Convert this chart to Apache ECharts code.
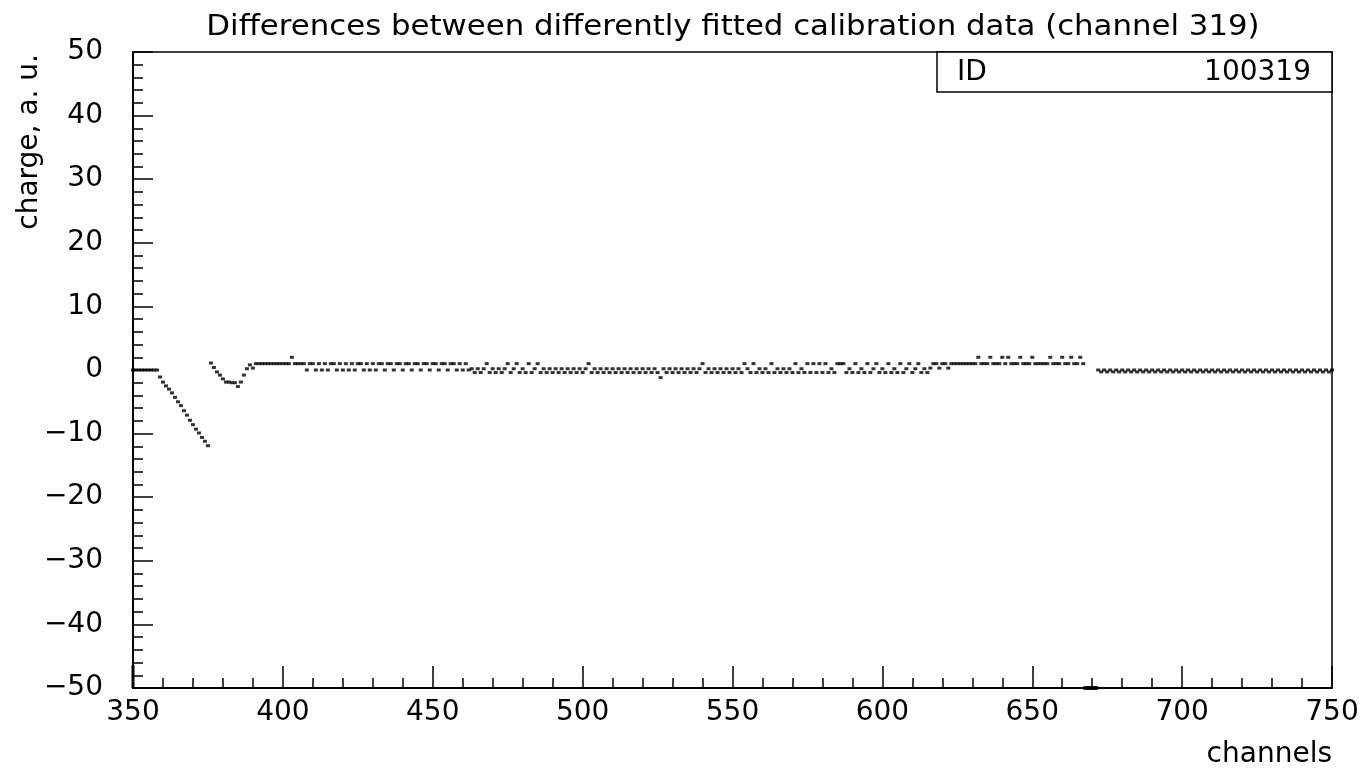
<!DOCTYPE html>
<html>
<head>
<meta charset="utf-8">
<script src="https://cdn.jsdelivr.net/npm/echarts@6/dist/echarts.min.js"></script>
<style>
html,body{margin:0;padding:0;background:#fff;}
#chart{width:1372px;height:772px;}
</style>
</head>
<body>
<div id="chart"></div>
<script>
// ---- data ----
const titleText = 'Differences between differently fitted calibration data (channel 319)';
const xName = 'channels';
const yName = 'charge, a. u.';
const statsLabel = 'ID';
const statsValue = '100319';
const xTicks = [350, 400, 450, 500, 550, 600, 650, 700, 750];
const yTicks = [-50, -40, -30, -20, -10, 0, 10, 20, 30, 40, 50];

// first segment: channels 350 .. 667 (one value per channel)
const segAStart = 350;
const segAValues = [
  0,0,0,0,0,0,0,0,0,-1.1,                       // 350
  -1.9,-2.5,-3.0,-3.6,-4.3,-5.0,-5.6,-6.4,-7.1,-7.9, // 360
  -8.6,-9.3,-9.9,-10.6,-11.2,-11.9,1.1,0.4,-0.3,-0.8, // 370
  -1.4,-1.9,-1.9,-2.0,-2.0,-2.6,-1.9,-0.8,0.2,0.8,  // 380
  0.3,1,1,1,1,1,1,1,1,1,                        // 390
  1,1,1,2,1,1,1,1,0,1,                          // 400
  1,0,1,0,1,0,1,1,0,1,                          // 410
  0,1,0,1,0,1,1,0,1,0,                          // 420
  1,0,1,1,0,1,1,0,1,1,                          // 430
  0,1,1,0,1,1,0,1,1,0,                          // 440
  1,1,0,1,1,0,1,1,0,1,                          // 450
  0,1,0,0.2,-0.4,0.2,-0.4,0.2,1,-0.4,           // 460
  0.2,-0.4,0.2,-0.4,0.2,1,-0.4,0.2,1,-0.4,      // 470
  0.2,-0.4,1,-0.4,0.2,1,-0.4,0.2,-0.4,0.2,      // 480
  -0.4,0.2,-0.4,0.2,-0.4,0.2,-0.4,0.2,-0.4,0.2, // 490
  -0.4,0.2,1,-0.4,0.2,-0.4,0.2,-0.4,0.2,-0.4,   // 500
  0.2,-0.4,0.2,-0.4,0.2,-0.4,0.2,-0.4,0.2,-0.4, // 510
  0.2,-0.4,0.2,-0.4,0.2,-0.4,-1.2,0.2,-0.4,0.2, // 520
  -0.4,0.2,-0.4,0.2,-0.4,0.2,-0.4,0.2,-0.4,0.2, // 530
  1,-0.4,0.2,-0.4,0.2,-0.4,0.2,-0.4,0.2,-0.4,   // 540
  0.2,-0.4,0.2,-0.4,1,0.2,-0.4,1,-0.4,0.2,      // 550
  -0.4,0.2,-0.4,1,-0.4,0.2,-0.4,0.2,-0.4,0.2,   // 560
  -0.4,1,-0.4,0.2,-0.4,1,-0.4,1,-0.4,1,         // 570
  -0.4,1,-0.4,0.2,-0.4,1,1,1,-0.4,0.2,          // 580
  -0.4,1,-0.4,0.2,-0.4,1,-0.4,0.2,1,-0.4,       // 590
  0.2,-0.4,1,-0.4,0.2,-0.4,1,-0.4,0.2,1,        // 600
  -0.4,0.2,1,-0.4,0.2,-0.4,0.3,1,1,0.3,         // 610
  1,1,0.3,1,1,1,1,1,1,1,                        // 620
  1,1,2,1,1,1,2,1,1,1,                          // 630
  2,1,2,1,1,1,2,1,1,1,                          // 640
  2,1,1,1,1,1,2,1,1,1,                          // 650
  2,1,1,2,1,1,2,1                               // 660
];

// second segment: channels 672 .. 750
const segBStart = 672;
const segBValues = [
  0,-0.3,0,-0.3,0,-0.3,0,-0.3,0,-0.3,   // 672
  0,-0.3,0,-0.3,0,-0.3,0,-0.3,0,-0.3,   // 682
  0,-0.3,0,-0.3,0,-0.3,0,-0.3,0,-0.3,   // 692
  0,-0.3,0,-0.3,0,-0.3,0,-0.3,0,-0.3,   // 702
  0,-0.3,0,-0.3,0,-0.3,0,-0.3,0,-0.3,   // 712
  0,-0.3,0,-0.3,0,-0.3,0,-0.3,0,-0.3,   // 722
  0,-0.3,0,-0.3,0,-0.3,0,-0.3,0,-0.3,   // 732
  0,-0.3,0,-0.3,0,-0.3,0,-0.3,0         // 742
];

// channels with values at / below the lower axis limit
const underflowChannels = [668, 669, 670, 671];
const underflowValues = [-50, -50, -50, -50];
// mark at the first channel running down to the axis floor
const edgeMarkChannel = 350;
const edgeMarkValues = [-46.4, -50];

// ---- build ----
const points = [];
segAValues.forEach((v, i) => points.push([segAStart + i, v]));
segBValues.forEach((v, i) => points.push([segBStart + i, v]));
const under = underflowChannels.map((c, i) => [c, underflowValues[i]]);
const edge = edgeMarkValues.map(v => [edgeMarkChannel, v]);

const FONT = 'DejaVu Sans';
const FS = 28;
const fontStr = FS + 'px "' + FONT + '"';
const chart = echarts.init(document.getElementById('chart'), null, {renderer: 'canvas'});
const gridL = 133, gridR = 40, gridT = 52, gridB = 84;

chart.setOption({
  animation: false,
  backgroundColor: '#ffffff',
  grid: {left: gridL, right: gridR, top: gridT, bottom: gridB, show: true,
         borderColor: '#000', borderWidth: 1.5, backgroundColor: 'transparent'},
  xAxis: {
    type: 'value', min: xTicks[0], max: xTicks[xTicks.length - 1], interval: 50,
    axisLine: {show: true, onZero: false, lineStyle: {color: '#000', width: 2}},
    axisTick: {show: true, inside: true, length: 22, lineStyle: {color: '#000', width: 1.5}},
    minorTick: {show: true, splitNumber: 5, length: 10, lineStyle: {color: '#000', width: 1.5}},
    splitLine: {show: false},
    axisLabel: {color: '#000', fontFamily: FONT, fontSize: FS, margin: 11,
                formatter: v => String(v)}
  },
  yAxis: {
    type: 'value', min: yTicks[0], max: yTicks[yTicks.length - 1], interval: 10,
    axisLine: {show: true, onZero: false, lineStyle: {color: '#000', width: 2}},
    axisTick: {show: true, inside: true, length: 20, lineStyle: {color: '#000', width: 1.5}},
    minorTick: {show: true, splitNumber: 5, length: 10, lineStyle: {color: '#000', width: 1.5}},
    splitLine: {show: false},
    axisLabel: {color: '#000', fontFamily: FONT, fontSize: FS, margin: 30,
                formatter: v => String(v).replace('-', '\u2212')}
  },
  series: [
    {type: 'scatter', data: points, symbol: 'rect', symbolSize: [4, 3],
     itemStyle: {color: '#000'}, clip: true},
    {type: 'scatter', data: under, symbol: 'rect', symbolSize: [6, 4],
     itemStyle: {color: '#000'}, clip: false},
    {type: 'line', data: edge, symbol: 'none', lineStyle: {color: '#000', width: 3}, clip: false}
  ],
  graphic: [
    {type: 'text', x: 733, y: 28, scaleX: 1.1,
     style: {text: titleText, font: fontStr, fill: '#000', align: 'center', verticalAlign: 'middle'}},
    {type: 'rect', shape: {x: 937, y: 52, width: 395, height: 40},
     style: {fill: '#fff', stroke: '#000', lineWidth: 1.5}, z: 10},
    {type: 'text', x: 957, y: 73, z: 11,
     style: {text: statsLabel, font: fontStr, fill: '#000', align: 'left', verticalAlign: 'middle'}},
    {type: 'text', x: 1311, y: 73, z: 11,
     style: {text: statsValue, font: fontStr, fill: '#000', align: 'right', verticalAlign: 'middle'}},
    {type: 'text', x: 1332, y: 755,
     style: {text: xName, font: fontStr, fill: '#000', align: 'right', verticalAlign: 'middle'}},
    {type: 'text', x: 30, y: 54, rotation: Math.PI / 2,
     style: {text: yName, font: fontStr, fill: '#000', align: 'right', verticalAlign: 'middle'}}
  ]
});
</script>
</body>
</html>
